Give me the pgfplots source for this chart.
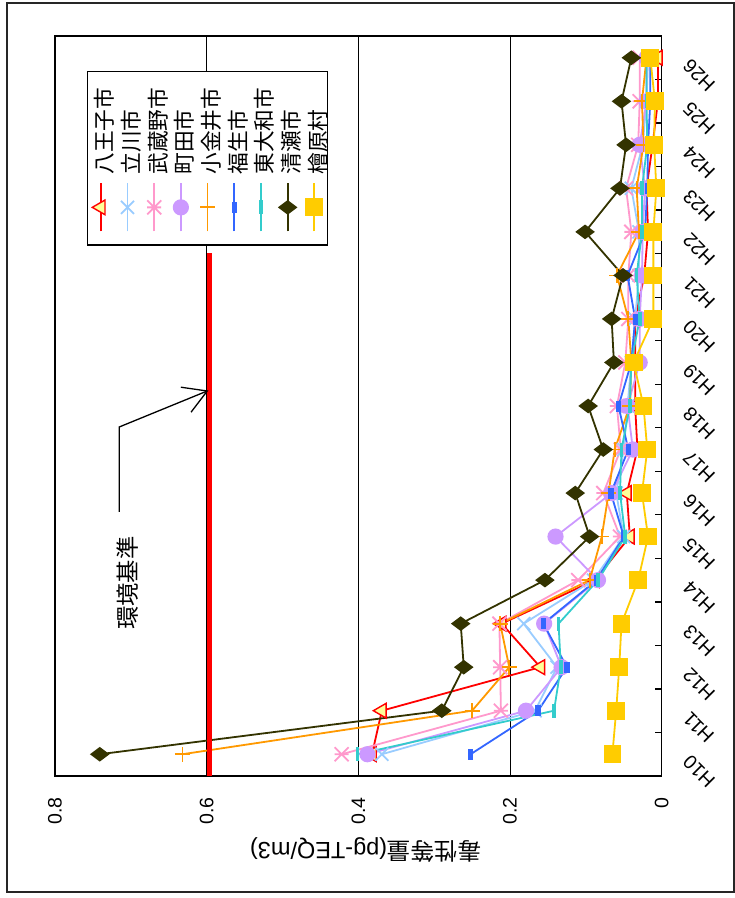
\documentclass[border=0pt]{standalone}
\usepackage{fontspec}
\setmainfont{Liberation Sans}
\newfontfamily\cjk{Noto Sans CJK JP}
\usepackage{graphicx}
\usepackage{pgfplots}
\pgfplotsset{compat=1.18}
\usepackage{pgfplotstable}
\usetikzlibrary{arrows.meta}

\definecolor{cRed}{HTML}{FF0000}
\definecolor{cTri}{HTML}{FFFF99}
\definecolor{cLBlue}{HTML}{99CCFF}
\definecolor{cPink}{HTML}{FF99CC}
\definecolor{cLav}{HTML}{CC99FF}
\definecolor{cOrange}{HTML}{FF9900}
\definecolor{cBlue}{HTML}{3366FF}
\definecolor{cCyan}{HTML}{33CCCC}
\definecolor{cOlive}{HTML}{333300}
\definecolor{cYellow}{HTML}{FFCC00}

% Excel-like markers
\pgfdeclareplotmark{xcross}{%
  \pgfpathmoveto{\pgfqpoint{-\pgfplotmarksize}{-\pgfplotmarksize}}%
  \pgfpathlineto{\pgfqpoint{\pgfplotmarksize}{\pgfplotmarksize}}%
  \pgfpathmoveto{\pgfqpoint{-\pgfplotmarksize}{\pgfplotmarksize}}%
  \pgfpathlineto{\pgfqpoint{\pgfplotmarksize}{-\pgfplotmarksize}}%
  \pgfusepathqstroke}
\pgfdeclareplotmark{xstar}{%
  \pgfpathmoveto{\pgfqpoint{-\pgfplotmarksize}{-\pgfplotmarksize}}%
  \pgfpathlineto{\pgfqpoint{\pgfplotmarksize}{\pgfplotmarksize}}%
  \pgfpathmoveto{\pgfqpoint{-\pgfplotmarksize}{\pgfplotmarksize}}%
  \pgfpathlineto{\pgfqpoint{\pgfplotmarksize}{-\pgfplotmarksize}}%
  \pgfpathmoveto{\pgfqpoint{0pt}{-\pgfplotmarksize}}%
  \pgfpathlineto{\pgfqpoint{0pt}{\pgfplotmarksize}}%
  \pgfusepathqstroke}
\pgfdeclareplotmark{sdash}{%
  \pgfpathrectangle{\pgfqpoint{-5pt}{-2.2pt}}{\pgfqpoint{10pt}{4.4pt}}%
  \pgfusepathqfillstroke}
\pgfdeclareplotmark{ldash}{%
  \pgfpathrectangle{\pgfqpoint{-7pt}{-1.8pt}}{\pgfqpoint{14pt}{3.6pt}}%
  \pgfusepathqfill}

\newcommand{\LE}[1]{\makebox[103pt][l]{\rule[-8.8pt]{0pt}{34pt}#1}}

% dioxin concentration, H10 (x=0) ... H26 (x=16)
\pgfplotstableread{
x  hach  tach  musa  mach  koga  fuss  higa  kiyo  hino
0  0.382 0.369 0.422 0.388 0.632 0.252 0.401 0.741 0.065
1  0.369 0.167 0.212 0.179 0.250 0.163 0.142 0.290 0.060
2  0.160 0.138 0.213 0.132 0.201 0.125 0.133 0.261 0.056
3  0.211 0.182 0.214 0.155 0.213 0.156 0.136 0.265 0.053
4  0.088 0.090 0.110 0.084 0.095 0.086 0.084 0.154 0.031
5  0.042 0.050 0.055 0.140 0.079 0.050 0.048 0.095 0.018
6  0.046 0.060 0.077 0.066 0.070 0.067 0.055 0.114 0.026
7  0.032 0.050 0.054 0.038 0.062 0.044 0.053 0.077 0.019
8  0.035 0.045 0.059 0.045 0.042 0.057 0.042 0.097 0.024
9  0.035 0.040 0.048 0.029 0.040 0.040 0.040 0.063 0.037
10 0.035 0.035 0.044 0.029 0.044 0.035 0.029 0.066 0.011
11 0.023 0.030 0.044 0.026 0.059 0.045 0.033 0.051 0.011
12 0.018 0.030 0.040 0.025 0.030 0.022 0.026 0.101 0.011
13 0.020 0.040 0.047 0.022 0.033 0.019 0.026 0.055 0.007
14 0.012 0.025 0.031 0.029 0.024 0.018 0.019 0.047 0.010
15 0.005 0.020 0.029 0.020 0.026 0.015 0.020 0.053 0.009
16 0.005 0.018 0.029 0.020 0.020 0.015 0.020 0.040 0.015
}\dioxin

\begin{document}
\rotatebox{90}{%
\begin{tikzpicture}
\useasboundingbox (0,0) rectangle (898pt,735pt);
\draw[line width=1.5pt, black!85] (6pt,1pt) rectangle (895pt,728pt);
\begin{axis}[
  at={(122pt,73.3pt)}, anchor=south west,
  scale only axis, width=740pt, height=606.7pt,
  xmin=-0.5, xmax=16.5, ymin=0, ymax=0.8,
  clip=false,
  xtick={0,...,16},
  xticklabels={H10,H11,H12,H13,H14,H15,H16,H17,H18,H19,H20,H21,H22,H23,H24,H25,H26},
  minor xtick={0.5,1.5,...,15.5},
  xtick pos=left,
  tick align=inside,
  major tick length=0pt, minor tick length=7pt,
  minor tick style={black, line width=1.3pt},
  ytick={0,0.2,0.4,0.6,0.8},
  yticklabels={0,0.2,0.4,0.6,0.8},
  ymajorgrids,
  major grid style={black, line width=1pt},
  axis line style={black, line width=1.6pt},
  ticklabel style={font=\fontsize{19.5}{23}\selectfont},
  xticklabel style={xshift=-4.6pt, yshift=-24.5pt, rotate=45, anchor=east, inner sep=0pt},
  yticklabel style={anchor=east, inner sep=0pt, xshift=-21pt},
  ylabel={{\cjk 毒性等量}(pg-TEQ/m3)},
  ylabel style={at={(axis description cs:-0.1,0.488)}, anchor=center, font=\fontsize{23.5}{28}\selectfont},
  legend style={at={(rel axis cs:0.7166,0.9478)}, anchor=north west,
    draw=black, line width=1.5pt, fill=white,
    inner xsep=0pt, inner ysep=0pt, row sep=0pt, column sep=8pt,
    nodes={inner sep=0pt},
    font=\fontsize{21.7}{26}\selectfont\cjk},
  legend cell align=left,
  legend image code/.code={%
    \path (0pt,0pt) (60.7pt,0pt);
    \draw[mark repeat=2, mark phase=2, #1] plot coordinates {(12.7pt,0pt) (36.7pt,0pt) (60.7pt,0pt)};
  },
]
\addplot[color=cRed, line width=1.8pt, mark=triangle*, mark size=8.5pt,
  mark options={fill=cTri, draw=cRed, line width=1.4pt}]
  table[x=x, y=hach] {\dioxin};
\addlegendentry{\LE{八王子市}}
\addplot[color=cLBlue, line width=1.8pt, mark=xcross, mark size=6.5pt]
  table[x=x, y=tach] {\dioxin};
\addlegendentry{\LE{立川市}}
\addplot[color=cPink, line width=1.8pt, mark=xstar, mark size=7pt]
  table[x=x, y=musa] {\dioxin};
\addlegendentry{\LE{武蔵野市}}
\addplot[color=cLav, line width=1.8pt, mark=*, mark size=7.2pt]
  table[x=x, y=mach] {\dioxin};
\addlegendentry{\LE{町田市}}
\addplot[color=cOrange, line width=1.8pt, mark=+, mark size=7.5pt]
  table[x=x, y=koga] {\dioxin};
\addlegendentry{\LE{小金井市}}
\addplot[color=cBlue, line width=1.8pt, mark=sdash,
  mark options={line width=0.8pt}]
  table[x=x, y=fuss] {\dioxin};
\addlegendentry{\LE{福生市}}
\addplot[color=cCyan, line width=1.8pt, mark=ldash]
  table[x=x, y=higa] {\dioxin};
\addlegendentry{\LE{東大和市}}
\addplot[color=cOlive, line width=1.8pt, mark=diamond*, mark size=8.3pt]
  table[x=x, y=kiyo] {\dioxin};
\addlegendentry{\LE{清瀬市}}
\addplot[color=cYellow, line width=1.8pt, mark=square*, mark size=8pt]
  table[x=x, y=hino] {\dioxin};
\addlegendentry{\LE{檜原村}}

% environmental standard 0.6 pg-TEQ/m3
\addplot[color=cRed, line width=5.6pt, no marks, forget plot]
  coordinates {(-0.5,0.5965) (11.51,0.5965)};
\draw[line width=1.3pt, -{Straight Barb[length=23pt,width=27pt]}]
  (axis cs:5.565,0.7154) -- (axis cs:7.517,0.7154) -- (axis cs:8.356,0.5977);
\node[font=\fontsize{23.3}{28}\selectfont\cjk] at (axis cs:3.93,0.704) {環境基準};
\end{axis}
\end{tikzpicture}}
\end{document}
